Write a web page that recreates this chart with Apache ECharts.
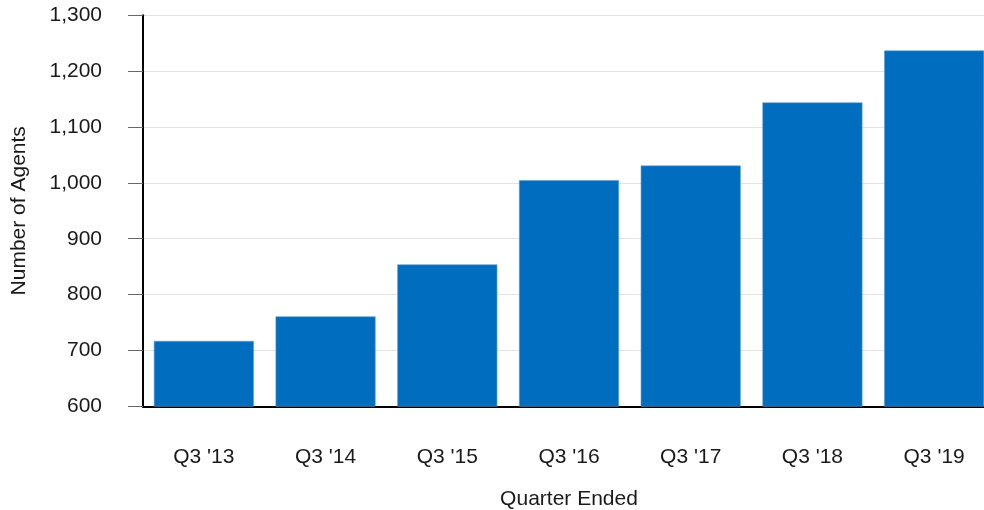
<!DOCTYPE html>
<html>
<head>
<meta charset="utf-8">
<script src="https://cdn.jsdelivr.net/npm/echarts@6/dist/echarts.min.js"></script>
<style>
html,body{margin:0;padding:0;background:#fff;}
#chart{width:984px;height:510px;}
</style>
</head>
<body>
<div id="chart"></div>
<script>
const categories = ["Q3 '13", "Q3 '14", "Q3 '15", "Q3 '16", "Q3 '17", "Q3 '18", "Q3 '19"];
const agents = [717, 761, 854, 1005, 1031, 1144, 1237];
const yMin = 600, yMax = 1300, yStep = 100;
const xTitle = 'Quarter Ended';
const yTitle = 'Number of Agents';

const FONT = "'Liberation Sans', Arial, sans-serif";
const chart = echarts.init(document.getElementById('chart'));
chart.setOption({
  animation: false,
  backgroundColor: '#ffffff',
  textStyle: { fontFamily: FONT },
  grid: { left: 143, top: 15.3, height: 391, width: 852, containLabel: false, outerBoundsMode: 'none' },
  xAxis: {
    type: 'category',
    data: categories,
    name: xTitle,
    nameLocation: 'middle',
    nameGap: 82,
    nameTextStyle: { fontSize: 21, color: '#1a1a1a', fontFamily: FONT },
    axisLine: { lineStyle: { color: '#000', width: 2 } },
    axisTick: { alignWithLabel: true, length: 15, lineStyle: { color: '#666', width: 1 } },
    axisLabel: { fontSize: 21, color: '#1a1a1a', margin: 40, fontFamily: FONT },
    splitLine: { show: false }
  },
  yAxis: {
    type: 'value',
    min: yMin, max: yMax, interval: yStep,
    name: yTitle,
    nameLocation: 'middle',
    nameGap: 113,
    nameRotate: 90,
    nameTextStyle: { fontSize: 21, color: '#1a1a1a', fontFamily: FONT },
    axisLine: { show: true, lineStyle: { color: '#000', width: 2 } },
    axisTick: { show: true, length: 15, lineStyle: { color: '#666', width: 1 } },
    axisLabel: {
      fontSize: 21, color: '#1a1a1a', margin: 41, fontFamily: FONT,
      formatter: v => v.toLocaleString('en-US')
    },
    splitLine: { lineStyle: { color: '#e3e3e3', width: 1 } }
  },
  series: [{
    type: 'bar',
    data: agents,
    barWidth: 100,
    itemStyle: { color: '#006dbe', borderColor: '#5a9fd6', borderWidth: 0.6 }
  }]
});
</script>
</body>
</html>
